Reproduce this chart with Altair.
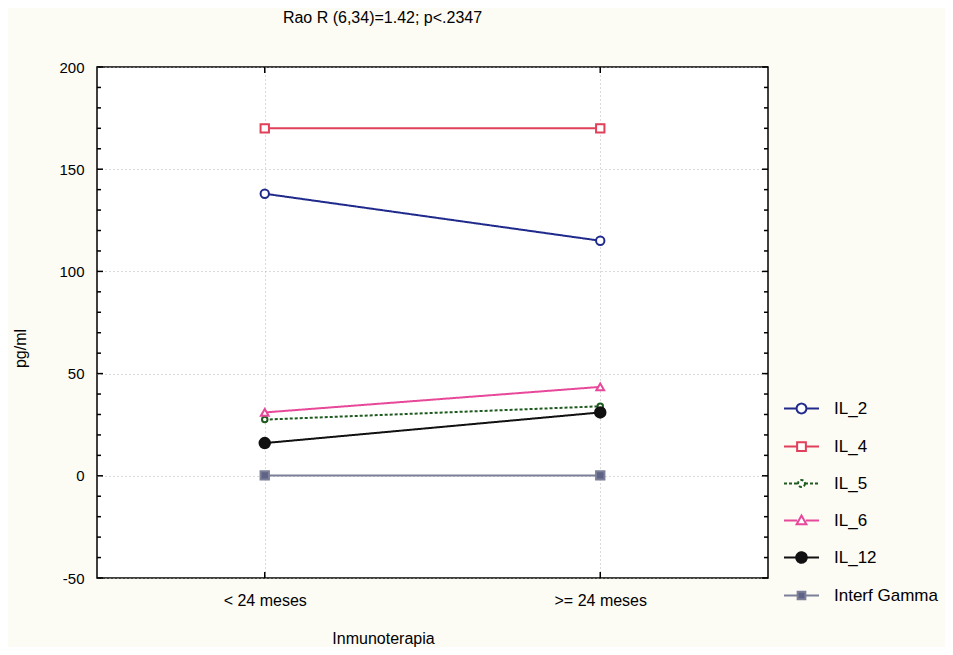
import altair as alt
import pandas as pd

categories = ["< 24 meses", ">= 24 meses"]
series = ["IL_2", "IL_4", "IL_5", "IL_6", "IL_12", "Interf Gamma"]
il_2 = [138, 115]
il_4 = [170, 170]
il_5 = [27.5, 34]
il_6 = [31, 43.5]
il_12 = [16, 31]
interf_gamma = [0.2, 0.2]

y_major = [-50, 0, 50, 100, 150, 200]
y_minor = [-40, -30, -20, -10, 10, 20, 30, 40, 60, 70, 80, 90,
           110, 120, 130, 140, 160, 170, 180, 190]

colors = ["#1f2a8c", "#e0405a", "#1d5a1d", "#e8489a", "#111111", "#7c7f98"]
fills = ["white", "white", "white", "white", "#111111", "#5f6385"]
dashes = [[1, 0], [1, 0], [3, 2], [1, 0], [1, 0], [1, 0]]

# legend symbols: line segment + marker (paths within [-1,1])
legend_shapes = [
    "M-1,0H-0.28M0.28,0H1M0.28,0A0.28,0.28 0 1,1 -0.28,0A0.28,0.28 0 1,1 0.28,0Z",
    "M-1,0H-0.25M0.25,0H1M-0.25,-0.25H0.25V0.25H-0.25Z",
    "M-1,0H-0.2M0.2,0H1M0.2,0A0.2,0.2 0 1,1 -0.2,0A0.2,0.2 0 1,1 0.2,0Z",
    "M-1,0H-0.25M0.25,0H1M0,-0.28L0.28,0.22L-0.28,0.22Z",
    "M-1,0H-0.3M0.3,0H1M0.3,0A0.3,0.3 0 1,1 -0.3,0A0.3,0.3 0 1,1 0.3,0Z",
    "M-1,0H-0.22M0.22,0H1M-0.22,-0.22H0.22V0.22H-0.22Z",
]
point_shapes = ["circle", "square", "circle", "triangle-up", "circle", "square"]
point_sizes = [70, 70, 30, 60, 110, 70]

vals = [il_2, il_4, il_5, il_6, il_12, interf_gamma]
rows = []
for s, v in zip(series, vals):
    for c, y in zip(categories, v):
        rows.append({"series": s, "cat": c, "value": y})
df = pd.DataFrame(rows)

FONT = "Liberation Sans"
W, H = 671, 511

yscale = alt.Scale(domain=[-50, 200], nice=False, zero=False)
xscale = alt.Scale(type="point", padding=0.5, domain=categories)

x_enc = alt.X("cat:N", sort=categories, scale=xscale,
              axis=alt.Axis(title="Inmunoterapia", ticks=False, domain=False,
                            labelPadding=14, labelFontSize=16, labelColor="black",
                            labelFont=FONT, titleFont=FONT, titleFontSize=16,
                            titleFontWeight="normal", titleColor="black",
                            titleX=286, titleY=52, titleAlign="center",
                            grid=True, gridDash=[1, 3], gridColor="#b5b5b5",
                            labelAngle=0))
y_enc = alt.Y("value:Q", scale=yscale,
              axis=alt.Axis(title="pg/ml", values=y_major, ticks=False, domain=False,
                            labelExpr="datum.value < 0 ? '-' + abs(datum.value) : datum.label",
                            labelPadding=13, labelFontSize=15, labelColor="black",
                            labelFont=FONT, titleFont=FONT, titleFontSize=16,
                            titleFontWeight="normal", titleColor="black",
                            titleX=-69, titleY=281, titleAlign="center",
                            grid=True, gridDash=[1, 3], gridColor="#b5b5b5"))

base = alt.Chart(df)

line_layers = []
point_layers = []
for s, c, f, sh, sz, d in zip(series, colors, fills, point_shapes, point_sizes, dashes):
    sub = base.transform_filter(alt.datum.series == s)
    line_layers.append(
        sub.mark_line(strokeWidth=2, color=c, strokeDash=d).encode(x=x_enc, y=y_enc)
    )
    point_layers.append(
        sub.mark_point(shape=sh, size=sz, filled=True, fill=f, stroke=c,
                       strokeWidth=2, opacity=1).encode(x=x_enc, y=y_enc)
    )

legend_layer = base.transform_filter("false").mark_point(
    filled=False, strokeWidth=2, opacity=1
).encode(
    x=x_enc, y=y_enc,
    stroke=alt.Stroke("series:N", scale=alt.Scale(domain=series, range=colors), title=None,
                      legend=alt.Legend(orient="none", legendX=686, legendY=323,
                                        symbolSize=1225, symbolStrokeWidth=2,
                                        labelFontSize=17, labelFont=FONT,
                                        labelColor="black", labelOffset=14,
                                        rowPadding=10, padding=0,
                                        symbolOpacity=1)),
    fill=alt.Fill("series:N", scale=alt.Scale(domain=series, range=fills), title=None),
    shape=alt.Shape("series:N", scale=alt.Scale(domain=series, range=legend_shapes), title=None),
    strokeDash=alt.StrokeDash("series:N", scale=alt.Scale(domain=series, range=dashes), title=None),
)

ymaj = pd.DataFrame({"value": y_major})
ymin = pd.DataFrame({"value": y_minor})
xt = pd.DataFrame({"cat": categories})
tick_layers = [
    alt.Chart(ymaj).mark_rule(color="black", strokeWidth=1.5).encode(y=y_enc, x=alt.value(0), x2=alt.value(6)),
    alt.Chart(ymin).mark_rule(color="black", strokeWidth=1.5).encode(y=y_enc, x=alt.value(0), x2=alt.value(4)),
    alt.Chart(ymaj).mark_rule(color="black", strokeWidth=1.5).encode(y=y_enc, x=alt.value(W), x2=alt.value(W - 6)),
    alt.Chart(ymin).mark_rule(color="black", strokeWidth=1.5).encode(y=y_enc, x=alt.value(W), x2=alt.value(W - 4)),
    alt.Chart(xt).mark_rule(color="black", strokeWidth=1.5).encode(x=x_enc, y=alt.value(0), y2=alt.value(6)),
    alt.Chart(xt).mark_rule(color="black", strokeWidth=1.5).encode(x=x_enc, y=alt.value(H), y2=alt.value(H - 6)),
]

chart = alt.layer(*line_layers, *point_layers, legend_layer, *tick_layers).properties(
    width=W, height=H,
    title=alt.TitleParams("Rao R (6,34)=1.42; p<.2347", fontSize=16, font=FONT,
                          fontWeight="normal", color="black", anchor="middle",
                          dx=-50, offset=34),
    autosize=alt.AutoSizeParams(type="none"),
    padding={"left": 89, "top": 59, "right": 177, "bottom": 69},
    background="#fcfbf4",
).configure_view(stroke="black", strokeWidth=1.5, fill="white")

chart.save("out.html", embed_options={"renderer": "svg", "actions": False})
